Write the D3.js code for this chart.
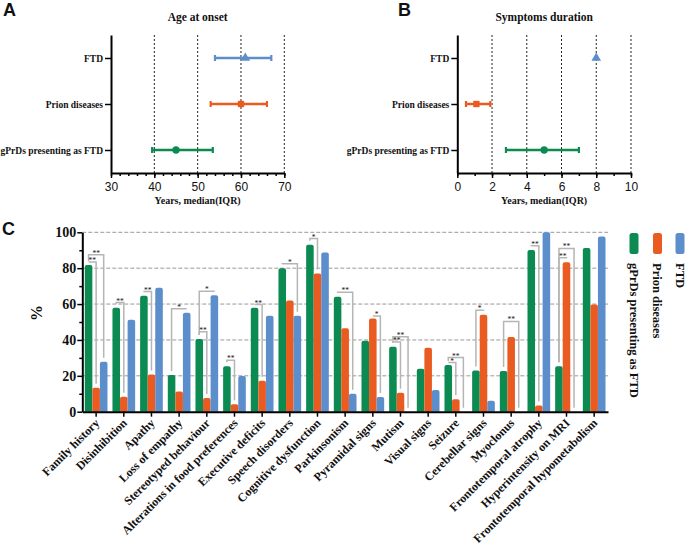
<!DOCTYPE html>
<html>
<head>
<meta charset="utf-8">
<script src="https://cdn.jsdelivr.net/npm/d3@7"></script>
<style>
body { margin: 0; background: #fff; }
svg text { font-family: "Liberation Serif", "Times New Roman", serif; font-weight: bold; fill: #111; }
</style>
</head>
<body>
<svg id="fig" width="685" height="551"></svg>
<script>
const groups = ['gPrDs presenting as FTD', 'Prion diseases', 'FTD']
const colors = ['#0b8a52', '#ea5b22', '#5b8ecb']

// A: age at onset, median and IQR
const onsetMedian = [45, 60, 61]
const onsetLow = [39.5, 53, 54]
const onsetHigh = [53.5, 66, 67]

// B: symptoms duration, median and IQR
const durMedian = [5, 1.1, 8]
const durLow = [2.8, 0.5, 8]
const durHigh = [7, 1.9, 8]

// C: clinical features, %
const features = ['Family history', 'Disinhibition', 'Apathy', 'Loss of empathy', 'Stereotyped behaviour',
    'Alterations in food preferences', 'Executive deficits', 'Speech disorders', 'Cognitive dysfunction',
    'Parkinsonism', 'Pyramidal signs', 'Mutism', 'Visual signs', 'Seizure', 'Cerebellar signs', 'Myoclonus',
    'Frontotemporal atrophy', 'Hyperintensity on MRI', 'Frontotemporal hypometabolism']
const gprdVals = [81.8, 58, 64.7, 20.4, 40.5, 25.3, 58, 80, 93.1, 64.1, 39.6, 36.2, 24, 26, 23, 22.7, 90.1, 25.3, 91.3]
const prionVals = [13.4, 8.4, 20.8, 11.3, 7.6, 4.1, 17.2, 62, 77, 46.5, 51.9, 10.6, 35.7, 6.9, 54.1, 41.6, 3.5, 83.3, 59.7]
const ftdVals = [27.9, 51.3, 69.1, 55.2, 64.9, 19.9, 53.5, 53.5, 88.7, 10, 8.2, 0, 12.1, 0, 6.1, 0, 100, 0, 97.6]

// significance brackets: feature, from group, to group, level (%), label
const brackets = [
    ['Family history', 0, 2, 87.5, '**'],
    ['Family history', 0, 1, 83.4, '**'],
    ['Disinhibition', 0, 1, 60.8, '**'],
    ['Apathy', 0, 1, 67, '**'],
    ['Loss of empathy', 0, 2, 57.4, '*'],
    ['Stereotyped behaviour', 0, 2, 67.2, '*'],
    ['Stereotyped behaviour', 0, 1, 44.5, '**'],
    ['Alterations in food preferences', 0, 1, 28.7, '**'],
    ['Executive deficits', 0, 1, 59.7, '**'],
    ['Speech disorders', 0, 2, 82.5, '*'],
    ['Cognitive dysfunction', 0, 1, 96.5, '*'],
    ['Parkinsonism', 0, 2, 66.6, '**'],
    ['Pyramidal signs', 1, 2, 53.4, '*'],
    ['Mutism', 0, 2, 41.8, '**'],
    ['Mutism', 0, 1, 38.8, '**'],
    ['Seizure', 0, 2, 30.2, '**'],
    ['Seizure', 0, 1, 27.4, '*'],
    ['Cerebellar signs', 0, 1, 56.6, '*'],
    ['Myoclonus', 0, 2, 50.3, '**'],
    ['Frontotemporal atrophy', 0, 1, 92.5, '**'],
    ['Hyperintensity on MRI', 0, 2, 91, '**'],
    ['Hyperintensity on MRI', 0, 1, 85.8, '**']
]

const svg = d3.select('#fig')
const shapes = [d3.symbolCircle, d3.symbolSquare, d3.symbolTriangle]
const shapeSize = [42, 40, 40]

const letter = (txt, x, y) => svg.append('text').text(txt).attr('x', x).attr('y', y)
    .style('font-family', '"Liberation Sans", Arial, sans-serif').style('font-size', '18px')

// forest style panels A and B
const forest = (o) => {
    const g = svg.append('g')
    const x = d3.scaleLinear().domain(o.domain).range([o.left, o.right])
    const y = d3.scalePoint().domain(groups).range([173, 35]).padding(0.5)

    g.selectAll('line.grid').data(o.grid).join('line')
        .attr('x1', d => x(d)).attr('x2', d => x(d))
        .attr('y1', 35).attr('y2', 173)
        .attr('stroke', '#222').attr('stroke-width', 1).attr('stroke-dasharray', '2,2')

    const minor = d3.range(o.domain[0], o.domain[1] + 0.001, o.minorStep)
    g.append('g').attr('transform', 'translate(0,173)')
        .call(d3.axisBottom(x).tickValues(minor).tickSize(3).tickFormat(''))
        .call(a => a.select('.domain').remove())
        .selectAll('line').attr('stroke-width', 1.5)

    const xa = g.append('g').attr('transform', 'translate(0,173)')
        .call(d3.axisBottom(x).tickValues(o.major).tickSize(5).tickSizeOuter(0).tickPadding(4))
    xa.select('.domain').attr('stroke-width', 2)
    xa.selectAll('line').attr('stroke-width', 1.5)
    xa.selectAll('text').style('font-family', '"Liberation Sans", Arial, sans-serif')
        .style('font-weight', 'normal').style('font-size', '12px').attr('fill', '#222')

    const ya = g.append('g').attr('transform', `translate(${o.left},0)`)
        .call(d3.axisLeft(y).tickSize(6).tickSizeOuter(0).tickPadding(2))
    ya.select('.domain').attr('stroke-width', 2)
    ya.selectAll('line').attr('stroke-width', 1.5)
    ya.selectAll('text').style('font-size', '9.5px')

    groups.forEach((grp, i) => {
        const cy = y(grp)
        if (o.hi[i] > o.lo[i]) {
            g.append('line').attr('x1', x(o.lo[i])).attr('x2', x(o.hi[i]))
                .attr('y1', cy).attr('y2', cy).attr('stroke', colors[i]).attr('stroke-width', 2.5)
            ;[o.lo[i], o.hi[i]].forEach(v => g.append('line')
                .attr('x1', x(v)).attr('x2', x(v)).attr('y1', cy - 3).attr('y2', cy + 3)
                .attr('stroke', colors[i]).attr('stroke-width', 2.2))
        }
        g.append('path').attr('d', d3.symbol(shapes[i], shapeSize[i])())
            .attr('transform', `translate(${x(o.med[i])},${cy})`).attr('fill', colors[i])
    })

    const mid = (o.left + o.right) / 2
    g.append('text').text(o.title).attr('x', mid).attr('y', 21)
        .attr('text-anchor', 'middle').style('font-size', '11.5px')
    g.append('text').text('Years, median(IQR)').attr('x', mid).attr('y', 204)
        .attr('text-anchor', 'middle').style('font-size', '10px')
}

forest({left: 111, right: 284.3, domain: [30, 70], major: [30, 40, 50, 60, 70], grid: [40, 50, 60, 70],
    minorStep: 2, med: onsetMedian, lo: onsetLow, hi: onsetHigh, title: 'Age at onset'})
forest({left: 457.3, right: 631, domain: [0, 10], major: [0, 2, 4, 6, 8, 10], grid: [2, 4, 6, 8, 10],
    minorStep: 1, med: durMedian, lo: durLow, hi: durHigh, title: 'Symptoms duration'})

letter('A', 3, 16)
letter('B', 398, 16)
letter('C', 2, 235)

// panel C: grouped bars
const cLeft = 82.3, cRight = 608, cTop = 232.3, cBottom = 411.7
const x0 = d3.scaleBand().domain(features).range([cLeft, cRight]).paddingInner(0.18).paddingOuter(0.09)
const x1 = d3.scaleBand().domain([0, 1, 2]).range([0, x0.bandwidth()])
const y = d3.scaleLinear().domain([0, 100]).range([cBottom, cTop])
const series = [gprdVals, prionVals, ftdVals]

const c = svg.append('g')
c.selectAll('line.hgrid').data([20, 40, 60, 80, 100]).join('line')
    .attr('x1', cLeft).attr('x2', cRight).attr('y1', d => y(d)).attr('y2', d => y(d))
    .attr('stroke', '#9a9a9a').attr('stroke-width', 1).attr('stroke-dasharray', '4,2')

const barPath = (bx, w, yt, yb, r) =>
    `M${bx},${yb}V${yt + r}Q${bx},${yt} ${bx + r},${yt}H${bx + w - r}Q${bx + w},${yt} ${bx + w},${yt + r}V${yb}Z`

series.forEach((vals, s) => {
    c.append('g').selectAll('path').data(features.filter((f, i) => vals[i] > 0)).join('path')
        .attr('d', f => barPath(x0(f) + x1(s), x1.bandwidth(), y(vals[features.indexOf(f)]), cBottom, 2))
        .attr('fill', colors[s])
})

// brackets
const center = (f, s) => x0(f) + x1(s) + x1.bandwidth() / 2
const topOf = (f, s) => y(series[s][features.indexOf(f)]) - 4
brackets.forEach(([f, a, b, lvl, lab]) => {
    const ly = y(lvl), xa = center(f, a), xb = center(f, b)
    c.append('path')
        .attr('d', `M${xa},${Math.max(topOf(f, a), ly)}V${ly}H${xb}V${Math.max(topOf(f, b), ly)}`)
        .attr('fill', 'none').attr('stroke', '#b5b5b5').attr('stroke-width', 1.5)
    c.append('text').text(lab).attr('x', (xa + xb) / 2).attr('y', ly + 1)
        .attr('text-anchor', 'middle').style('font-size', '7.5px').style('font-weight', 'normal').attr('fill', '#555')
})

const yMinor = c.append('g').attr('transform', `translate(${cLeft},0)`)
    .call(d3.axisLeft(y).tickValues(d3.range(10, 100, 20)).tickSize(3).tickFormat(''))
yMinor.select('.domain').remove()
yMinor.selectAll('line').attr('stroke-width', 1.5)

const yAxis = c.append('g').attr('transform', `translate(${cLeft},0)`)
    .call(d3.axisLeft(y).tickValues([0, 20, 40, 60, 80, 100]).tickSize(5).tickSizeOuter(0).tickPadding(1))
yAxis.select('.domain').attr('stroke-width', 2)
yAxis.selectAll('line').attr('stroke-width', 1.5)
yAxis.selectAll('text').style('font-size', '14px')

const xAxis = c.append('g').attr('transform', `translate(0,${cBottom})`)
    .call(d3.axisBottom(x0).tickSize(5).tickSizeOuter(0))
xAxis.select('.domain').attr('stroke-width', 2)
xAxis.selectAll('line').attr('stroke-width', 1.5)
xAxis.selectAll('text')
    .attr('x', 0).attr('y', 0).attr('dy', 0)
    .attr('text-anchor', 'end')
    .attr('transform', 'translate(4,12) rotate(-45)')
    .style('font-size', '12px')

c.append('text').text('%').attr('transform', 'translate(42,313) rotate(-90)')
    .attr('text-anchor', 'middle').style('font-size', '16px')

// legend, rotated
const legendX = [634, 657.5, 680]
groups.forEach((grp, i) => {
    c.append('rect').attr('x', legendX[i] - 4.5).attr('y', 233).attr('width', 9).attr('height', 21)
        .attr('rx', 2.5).attr('fill', colors[i])
    c.append('text').text(grp)
        .attr('transform', `translate(${legendX[i] - 4.5},263) rotate(90)`)
        .style('font-size', '12.5px')
})
</script>
</body>
</html>
